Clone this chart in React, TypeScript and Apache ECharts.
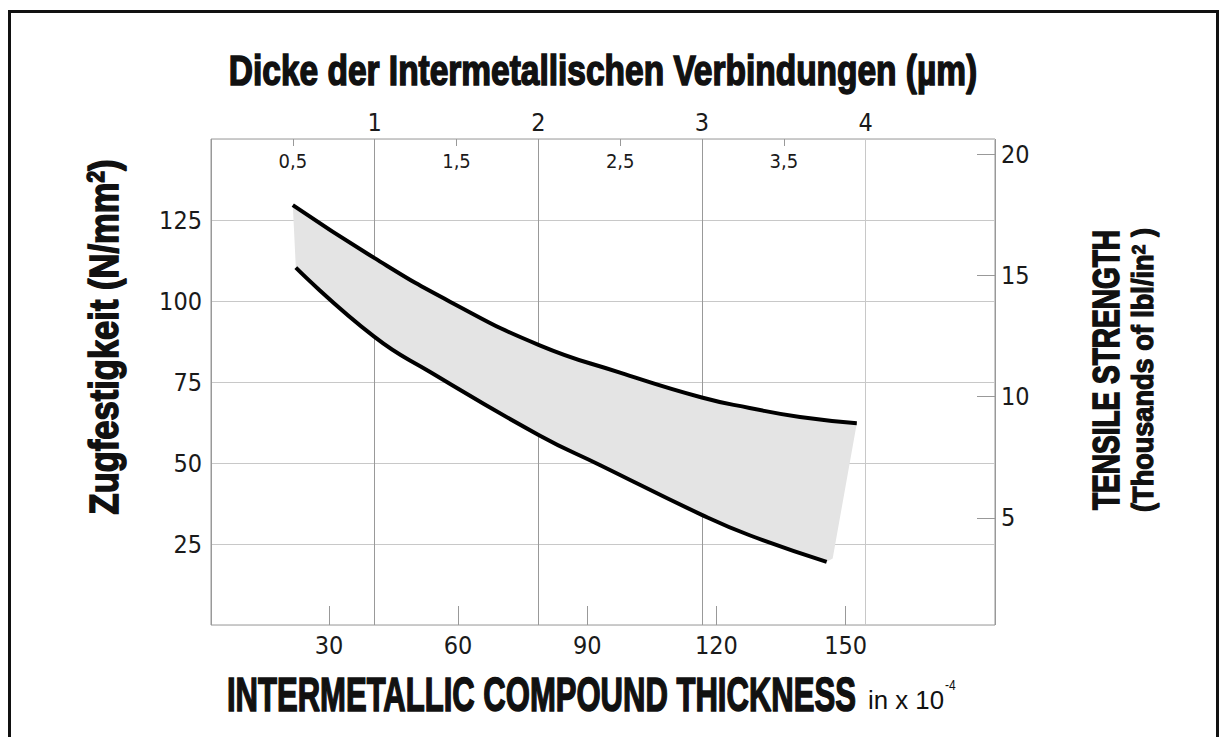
import React, { useEffect, useRef } from "react";
import * as echarts from "echarts";

// Upper boundary curve (x: 10^-4 in, y: N/mm²)
const upperX = [21.6, 40.5, 58.1, 78.8, 97.6, 116.6, 127.7, 139.4, 152.6];
const upperY = [129.6, 113.3, 99.8, 86.4, 77.9, 70.2, 67.0, 64.2, 62.3];
// Lower boundary curve
const lowerX = [22.3, 40.5, 53.5, 78.8, 92.9, 116.6, 127.7, 145.6];
const lowerY = [110.3, 89.0, 78.1, 58.6, 49.4, 34.0, 27.7, 19.5];
// end of shaded band at lower right
const bandEnd = [147.0, 20.5];

const bottomTicks = [30, 60, 90, 120, 150];
const topMajor = [1, 2, 3, 4];
const topMinor = [0.5, 1.5, 2.5, 3.5];
const leftTicks = [25, 50, 75, 100, 125];
const rightTicks = [5, 10, 15, 20];

const topTitle = "Dicke der Intermetallischen Verbindungen (µm)";
const bottomTitle = "INTERMETALLIC COMPOUND THICKNESS";
const leftTitle = "Zugfestigkeit (N/mm";
const rightTitle1 = "TENSILE STRENGTH";
const rightTitle2 = "(Thousands of lbl/in";

const NARROW = "'Liberation Sans Narrow', 'DejaVu Sans Condensed', 'Arial Narrow', 'Liberation Sans', sans-serif";
const BOLDF = "Liberation Sans";

export default function App() {
  const ref = useRef<HTMLDivElement>(null);
  useEffect(() => {
    if (!ref.current) return;
    const canvas = document.createElement("canvas");
    const ctx = canvas.getContext("2d")!;
    const tw = (t: string, size: number, weight = "bold") => {
      ctx.font = `${weight} ${size}px "${BOLDF}"`;
      return ctx.measureText(t).width;
    };
    const chart = echarts.init(ref.current, null, { renderer: "svg" });
    const upper = upperX.map((x, i) => [x, upperY[i]]);
    const lower = lowerX.map((x, i) => [x, lowerY[i]]);
    const band = [...upper, bandEnd, ...lower.slice().reverse()];

    const sTop = 748 / tw(topTitle, 42);
    const sBottom = 629 / tw(bottomTitle, 48);
    const sLeft = 355 / (tw(leftTitle, 40) + tw("2", 24) + tw(")", 40));
    const sR1 = 280 / tw(rightTitle1, 37);
    const sR2 = 284 / (tw(rightTitle2, 29) + tw("2", 19) + tw(" )", 29));
    const sIn = 76 / tw("in x 10", 25, "normal");

    const labelStyle = { fontFamily: NARROW, fontSize: 25, color: "#1a1a1a" };
    const heavy = { fill: "#111", stroke: "#111", lineWidth: 1.6 };

    chart.setOption({
      animation: false,
      backgroundColor: "#fff",
      grid: { left: 211, top: 139, width: 784, height: 486, show: true, borderColor: "#999", borderWidth: 1, containLabel: false },
      xAxis: [
        {
          type: "value", position: "bottom", min: 2.6, max: 184.7,
          axisLine: { show: false, onZero: false },
          axisTick: { show: true, inside: true, length: 19, customValues: bottomTicks, lineStyle: { color: "#999", width: 1 } },
          axisLabel: { ...labelStyle, margin: 8, customValues: bottomTicks },
          splitLine: { show: false },
        },
        {
          type: "value", position: "top", min: 0, max: 4.79, interval: 1,
          axisLine: { show: false, onZero: false },
          axisTick: { show: false },
          axisLabel: { ...labelStyle, margin: 4, formatter: (v: number) => (topMajor.includes(v) ? String(v) : "") },
          splitLine: { show: true, lineStyle: { color: ["#999", "#999", "#999", "#999", "#c8c8c8", "#999"], width: 1 } },
        },
        {
          type: "value", position: "top", min: 0, max: 4.79,
          axisLine: { show: false, onZero: false },
          axisTick: { show: true, inside: true, length: 7, customValues: topMinor, lineStyle: { color: "#999", width: 1 } },
          axisLabel: { fontFamily: NARROW, fontSize: 20, color: "#1a1a1a", inside: true, margin: 12, customValues: topMinor, formatter: (v: number) => String(v).replace(".", ",") },
          splitLine: { show: false },
        },
      ],
      yAxis: [
        {
          type: "value", position: "left", min: 0, max: 150, interval: 25,
          axisLine: { show: false, onZero: false }, axisTick: { show: false },
          axisLabel: { ...labelStyle, margin: 9, formatter: (v: number) => (leftTicks.includes(v) ? String(v) : "") },
          splitLine: { show: true, lineStyle: { color: "#c8c8c8", width: 1 } },
        },
        {
          type: "value", position: "right", min: 0.58, max: 20.62,
          axisLine: { show: false, onZero: false },
          axisTick: { show: true, inside: true, length: 18, customValues: rightTicks, lineStyle: { color: "#999", width: 1 } },
          axisLabel: { ...labelStyle, margin: 6, customValues: rightTicks },
          splitLine: { show: false },
        },
      ],
      series: [
        {
          type: "custom", xAxisIndex: 0, yAxisIndex: 0, data: [0], silent: true, z: 1,
          renderItem: (params: any, api: any) => ({
            type: "polygon",
            shape: { points: band.map((p) => api.coord(p)) },
            style: { fill: "#e4e4e4", stroke: "none" },
          }),
        },
        {
          type: "line", xAxisIndex: 0, yAxisIndex: 0, data: upper, smooth: 0.5, symbol: "none", z: 3,
          lineStyle: { color: "#000", width: 4 },
        },
        {
          type: "line", xAxisIndex: 0, yAxisIndex: 0, data: lower, smooth: 0.5, symbol: "none", z: 3,
          lineStyle: { color: "#000", width: 4 },
        },
      ],
      graphic: [
        { type: "rect", shape: { x: 9.5, y: 11.5, width: 1208, height: 740 }, style: { fill: "none", stroke: "#111", lineWidth: 3 }, z: 100 },
        {
          type: "text", x: 603, y: 71, scaleX: sTop,
          style: { text: topTitle, fontSize: 42, fontWeight: "bold", fontFamily: BOLDF, ...heavy, align: "center", verticalAlign: "middle" },
        },
        {
          type: "text", x: 227, y: 694, scaleX: sBottom,
          style: { text: bottomTitle, fontSize: 48, fontWeight: "bold", fontFamily: BOLDF, ...heavy, align: "left", verticalAlign: "middle" },
        },
        {
          type: "text", x: 868, y: 700, scaleX: sIn,
          style: { text: "in x 10", fontSize: 25, fontFamily: BOLDF, fill: "#111", align: "left", verticalAlign: "middle" },
        },
        {
          type: "text", x: 945, y: 685, scaleX: 0.8,
          style: { text: "-4", fontSize: 15, fontFamily: BOLDF, fill: "#111", align: "left", verticalAlign: "middle" },
        },
        {
          type: "text", x: 104, y: 337, rotation: Math.PI / 2, scaleX: sLeft,
          style: {
            text: "{a|" + leftTitle + "}{s|2}{a|)}",
            align: "center", verticalAlign: "middle",
            rich: {
              a: { fontSize: 40, fontWeight: "bold", fontFamily: BOLDF, ...heavy },
              s: { fontSize: 24, fontWeight: "bold", fontFamily: BOLDF, ...heavy, verticalAlign: "top" },
            },
          },
        },
        {
          type: "text", x: 1106, y: 370, rotation: Math.PI / 2, scaleX: sR1,
          style: { text: rightTitle1, fontSize: 37, fontWeight: "bold", fontFamily: BOLDF, ...heavy, align: "center", verticalAlign: "middle" },
        },
        {
          type: "text", x: 1143, y: 370, rotation: Math.PI / 2, scaleX: sR2,
          style: {
            text: "{a|" + rightTitle2 + "}{s|2}{a| )}",
            align: "center", verticalAlign: "middle",
            rich: {
              a: { fontSize: 29, fontWeight: "bold", fontFamily: BOLDF, ...heavy, lineWidth: 1.2 },
              s: { fontSize: 19, fontWeight: "bold", fontFamily: BOLDF, ...heavy, lineWidth: 1, verticalAlign: "top" },
            },
          },
        },
      ],
    });
    return () => chart.dispose();
  }, []);
  return <div ref={ref} style={{ position: "absolute", left: 0, top: 0, width: 1224, height: 737 }} />;
}
